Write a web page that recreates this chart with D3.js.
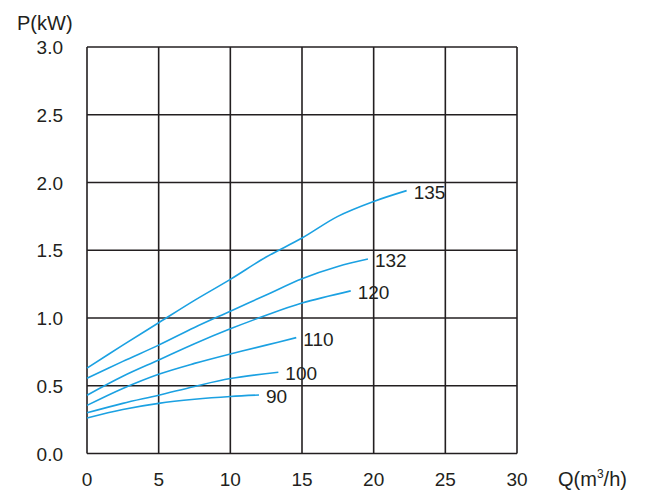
<!DOCTYPE html>
<html>
<head>
<meta charset="utf-8">
<script src="https://cdn.jsdelivr.net/npm/d3@7"></script>
<style>
  body { margin: 0; background: #fff; }
  text { font-family: "Liberation Sans", Arial, sans-serif; fill: #231f20; }
</style>
</head>
<body>
<div id="chart"></div>
<script>
// flow Q (m3/h) vs power P (kW), one curve per impeller size
const curveNames = ["135", "132", "120", "110", "100", "90"];
const q135 = [0, 2.5, 5, 7.5, 10, 12.5, 15, 17.5, 20, 22.3];
const p135 = [0.63, 0.80, 0.965, 1.13, 1.285, 1.45, 1.59, 1.75, 1.86, 1.94];
const q132 = [0, 2.5, 5, 7.5, 10, 12.5, 15, 17.5, 19.6];
const p132 = [0.555, 0.68, 0.80, 0.93, 1.05, 1.17, 1.29, 1.38, 1.435];
const q120 = [0, 2.5, 5, 7.5, 10, 12.5, 15, 18.4];
const p120 = [0.43, 0.57, 0.69, 0.81, 0.92, 1.02, 1.11, 1.20];
const q110 = [0, 2.5, 5, 7.5, 10, 12.5, 14.6];
const p110 = [0.355, 0.48, 0.585, 0.665, 0.735, 0.80, 0.855];
const q100 = [0, 2.5, 5, 7.5, 10, 13.35];
const p100 = [0.30, 0.37, 0.43, 0.495, 0.553, 0.60];
const q90 = [0, 2.5, 5, 7.5, 10, 12.0];
const p90 = [0.262, 0.325, 0.37, 0.40, 0.421, 0.432];

const xTicks = [0, 5, 10, 15, 20, 25, 30];
const yTicks = [0, 0.5, 1.0, 1.5, 2.0, 2.5, 3.0];

const series = [
    [q135, p135], [q132, p132], [q120, p120],
    [q110, p110], [q100, p100], [q90, p90],
].map(([q, p], i) => ({name: curveNames[i], pts: q.map((v, j) => [v, p[j]])}));

const W = 647, H = 502;
const mLeft = 87, mRight = 517, mTop = 47, mBottom = 453.5;

const svg = d3.select("#chart").append("svg")
    .attr("width", W).attr("height", H);

const x = d3.scaleLinear().domain([0, 30]).range([mLeft, mRight]);
const y = d3.scaleLinear().domain([0, 3]).range([mBottom, mTop]);

const ink = "#231f20";

// grid
svg.append("g").selectAll("line").data(xTicks).join("line")
    .attr("x1", d => x(d)).attr("x2", d => x(d))
    .attr("y1", mTop).attr("y2", mBottom)
    .attr("stroke", ink).attr("stroke-width", 1.6);
svg.append("g").selectAll("line").data(yTicks).join("line")
    .attr("x1", mLeft).attr("x2", mRight)
    .attr("y1", d => y(d)).attr("y2", d => y(d))
    .attr("stroke", ink).attr("stroke-width", 1.6);

// tick labels
svg.append("g").selectAll("text").data(yTicks).join("text")
    .attr("x", 63).attr("y", d => y(d) + 7)
    .attr("text-anchor", "end").attr("font-size", 19)
    .text(d => d.toFixed(1));
svg.append("g").selectAll("text").data(xTicks).join("text")
    .attr("x", d => x(d)).attr("y", 486)
    .attr("text-anchor", "middle").attr("font-size", 19)
    .text(d => d);

// axis titles
svg.append("text").attr("x", 17).attr("y", 30).attr("font-size", 20).text("P(kW)");
const qt = svg.append("text").attr("x", 558).attr("y", 486).attr("font-size", 20);
qt.append("tspan").text("Q(m");
qt.append("tspan").attr("font-size", 12).attr("dy", -8).text("3");
qt.append("tspan").attr("dy", 8).text("/h)");

// curves
const line = d3.line().x(d => x(d[0])).y(d => y(d[1])).curve(d3.curveCatmullRom.alpha(0.5));
svg.append("g").selectAll("path").data(series).join("path")
    .attr("d", d => line(d.pts))
    .attr("fill", "none").attr("stroke", "#1ba1e2").attr("stroke-width", 1.6);

svg.append("g").selectAll("text").data(series).join("text")
    .attr("x", d => x(d.pts[d.pts.length - 1][0]) + 7)
    .attr("y", d => y(d.pts[d.pts.length - 1][1]) + 8)
    .attr("font-size", 19)
    .text(d => d.name);
</script>
</body>
</html>
